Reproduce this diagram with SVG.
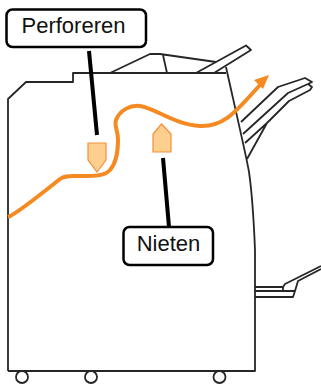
<svg xmlns="http://www.w3.org/2000/svg" width="321" height="385" viewBox="0 0 321 385">
<style>
.m{fill:none;stroke:#262626;stroke-width:1.8;stroke-linejoin:round}
.lead{fill:none;stroke:#000;stroke-width:4}
.box{fill:#fff;stroke:#000;stroke-width:2.5}
.lbl{font-family:"Liberation Sans",Arial,sans-serif;font-size:22px;fill:#111}
.mark{fill:#fdcf8e;stroke:#f58f3a;stroke-width:1.2}
</style>
<rect width="321" height="385" fill="#fff"/>
<g id="machine">
<path class="m" d="M8 371V99L26 82H73V73H226"/>
<path class="m" d="M226 67C231 90 247 159 249 172C253 200 254 225 255 250V371H8"/>
<path class="m" d="M110 73L150 54H160L167 55L216 62M163 55L167 73"/>
<path class="m" d="M196 73L246 45.500L251 50L214 73"/>
<path class="m" d="M241 122L278 87L305 78L312 82L308 84L288 93L243 134"/>
<path class="m" d="M308 84L312 87L310 90L289 101L267 123L245 143M267 123L247 159"/>
<path class="m" d="M255 287H283L285 284L321 266M255 291H295L298 281L321 269M255 297H293L295 291"/>
<path class="m" d="M283 287V291"/>
<circle class="m" cx="22" cy="377" r="6"/>
<circle class="m" cx="91" cy="377" r="6"/>
<circle class="m" cx="219.500" cy="377" r="6"/>
</g>
<g id="paper-path">
<path d="M8 217C14 215 30 203 60 179C64 176 68 176 74 176C90 176 104 177 110 170C117 162 118 150 118 140C118 130 114 126 116 120C120 110 130 105 140 106C155 108 175 125 200 126C225 127 237 110 260 85" fill="none" stroke="#f58a23" stroke-width="4"/>
<path d="M269 75L254 80L263 89Z" fill="#f58a23"/>
</g>
<g id="punch-marker"><path class="mark" d="M88 143H106V160L97 172L88 160Z"/></g>
<g id="staple-marker"><path class="mark" d="M153 152V134L161.500 124L171 134V152Z"/></g>
<g id="connectors">
<path class="lead" d="M89 51L97 135"/>
<path class="lead" d="M163 158L169 227"/>
</g>
<g id="perforeren">
<rect class="box" x="6.500" y="9.500" width="139.500" height="37.500" rx="6"/>
<text class="lbl" x="21.500" y="33">Perforeren</text>
</g>
<g id="nieten">
<rect class="box" x="123.500" y="227" width="89.500" height="38" rx="6"/>
<text class="lbl" x="168.500" y="251" text-anchor="middle">Nieten</text>
</g>
</svg>
